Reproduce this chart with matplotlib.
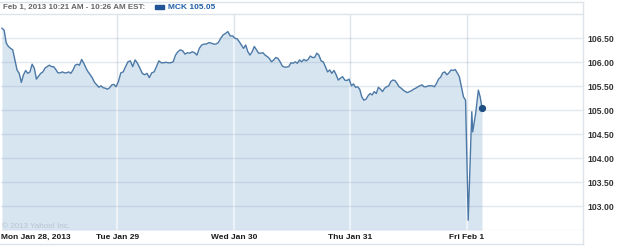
import numpy as np
import matplotlib
matplotlib.use("Agg")
import matplotlib.pyplot as plt
from matplotlib.lines import Line2D

# ---- data ----
days = ["Mon Jan 28, 2013", "Tue Jan 29", "Wed Jan 30", "Thu Jan 31", "Fri Feb 1"]

mon = [106.71, 106.67, 106.40, 106.33, 106.29, 106.26, 106.05, 105.84, 105.77, 105.58,
       105.74, 105.83, 105.77, 105.80, 105.96, 105.88, 105.65, 105.71, 105.77, 105.80,
       105.88, 105.91, 105.94, 105.91, 105.91, 105.85, 105.78, 105.78, 105.80, 105.78,
       105.78, 105.80, 105.77, 105.84, 105.94, 105.96, 105.94, 106.06, 105.98, 105.88,
       105.80, 105.74, 105.67, 105.58, 105.53, 105.48, 105.51, 105.47, 105.46, 105.44,
       105.47, 105.53, 105.54, 105.49]
tue = [105.60, 105.78, 105.80, 105.91, 106.01, 106.03, 105.91, 106.05, 105.98, 105.88,
       105.77, 105.74, 105.77, 105.68, 105.78, 105.80, 105.91, 106.03, 105.99, 105.99,
       106.00, 105.99, 105.99, 106.01, 106.15, 106.22, 106.26, 106.24, 106.17, 106.20,
       106.19, 106.22, 106.20, 106.15, 106.29, 106.36, 106.38, 106.38, 106.41, 106.40,
       106.38, 106.38, 106.41, 106.50, 106.57, 106.60, 106.64, 106.55, 106.55]
wed = [106.50, 106.49, 106.43, 106.36, 106.29, 106.36, 106.22, 106.15, 106.22, 106.33,
       106.26, 106.19, 106.19, 106.20, 106.15, 106.12, 106.08, 106.01, 106.05, 106.10,
       106.08, 106.01, 105.92, 105.90, 105.90, 105.91, 105.99, 105.98, 106.01, 105.98,
       106.05, 106.01, 106.06, 106.03, 106.06, 106.13, 106.10, 106.10, 106.19, 106.15,
       106.03, 106.01, 105.91, 105.80, 105.84, 105.77, 105.83, 105.74, 105.63, 105.67,
       105.70, 105.63, 105.62, 105.65]
thu = [105.51, 105.55, 105.48, 105.49, 105.44, 105.28, 105.21, 105.23, 105.30, 105.35,
       105.32, 105.39, 105.35, 105.48, 105.44, 105.39, 105.46, 105.49, 105.51, 105.60,
       105.63, 105.62, 105.56, 105.49, 105.46, 105.42, 105.39, 105.37, 105.39, 105.41,
       105.44, 105.46, 105.49, 105.51, 105.53, 105.49, 105.49, 105.51, 105.51, 105.51,
       105.49, 105.56, 105.65, 105.69, 105.78, 105.80, 105.74, 105.78, 105.84, 105.83,
       105.85, 105.78, 105.70, 105.49, 105.28, 105.21]
fri_minutes = [5, 17, 20, 30, 39, 45, 51]
fri = [102.71, 104.97, 104.55, 104.94, 105.42, 105.28, 105.05]

yticks = [103.00, 103.50, 104.00, 104.50, 105.00, 105.50, 106.00, 106.50]
title_txt = "Feb 1, 2013 10:21 AM - 10:26 AM EST:"
legend_txt = "MCK 105.05"
copyright_txt = "\u00a9 2013 Yahoo! Inc."

# ---- build x (in trading days; 390 minutes per session) ----
xs, ys = [], []
for d, vals in enumerate([mon, tue, wed, thu]):
    n = len(vals)
    xs.extend(list(d + np.linspace(0.01, 0.99, n)))
    ys.extend(vals)
xs.extend([4 + m / 390.0 for m in fri_minutes])
ys.extend(fri)
xs = np.array(xs)
ys = np.array(ys)

FONT = ["Liberation Sans Narrow", "Liberation Sans", "DejaVu Sans"]

fig = plt.figure(figsize=(6.25, 2.46), dpi=100)
W, H = 625.0, 246.0
ax = fig.add_axes([0.8 / W, (H - 230) / H, (583.2 - 0.8) / W, (230 - 14) / H])
ymin = 107.298 - 230 / 48.0
ymax = 107.298 - 14 / 48.0
ax.set_xlim(0, 5)
ax.set_ylim(ymin, ymax)

fill_col = "#d6e5f0"
line_col = "#4b78a6"

# vertical grid (gray in the empty area)
for d in range(1, 5):
    ax.axvline(d, color="#dde4eb", lw=1.0, zorder=0.5)

poly = ax.fill_between(xs, ys, ymin, color=fill_col, lw=0, zorder=1)
clip_path = poly.get_paths()[0]
for d in range(1, 5):
    wl = ax.axvline(d, color="#f4f7fa", lw=1.2, zorder=1.5)
    wl.set_clip_path(clip_path, ax.transData)

for yv in yticks:
    ax.axhline(yv, color="#7f98b0", alpha=0.22, lw=1.0, zorder=1.6)
ax.axhline(ymin, color="#7f98b0", alpha=0.22, lw=1.0, zorder=1.6)

ax.plot(xs, ys, color=line_col, lw=1.0, zorder=3)
ax.plot(xs[-1], ys[-1], "o", color="#1d4f85", ms=4.2, zorder=4)

ax.set_yticks(yticks)
ax.set_yticklabels(["%.2f" % v for v in yticks])
ax.yaxis.tick_right()
ax.tick_params(axis="y", length=0, pad=3, labelsize=6.2, labelcolor="#333333")
ax.set_xticks(range(5))
ax.set_xticklabels(days)
ax.tick_params(axis="x", length=0, pad=3, labelsize=6.0, labelcolor="#1a1a1a")
for lab in ax.get_xticklabels() + ax.get_yticklabels():
    lab.set_fontfamily(FONT)
    lab.set_fontweight("bold")
ax.get_xticklabels()[0].set_horizontalalignment("left")

for s in ["top", "left", "bottom", "right"]:
    ax.spines[s].set_visible(False)
ax.patch.set_alpha(0)

ax.text(0.012, 102.58, copyright_txt, fontsize=5.8,
        color="#b8c4cf", family=FONT, zorder=5, va="center")

# frame lines in figure pixels
def fline(x0, y0, x1, y1, c="#dde3e9", lw=1.0):
    fig.add_artist(Line2D([x0 / W, x1 / W], [1 - y0 / H, 1 - y1 / H], color=c, lw=lw))

fline(0, 1.5, 583, 1.5)
fline(0, 14, 583, 14)
fline(583, 1.5, 583, 244)
fline(0, 244, 583, 244)

fig.text(3 / W, 1 - 7.5 / H, title_txt, fontsize=5.8, fontweight="bold",
         color="#666666", family=FONT, va="center", ha="left")
fig.patches.append(matplotlib.patches.Rectangle((155 / W, 1 - 9 / H), 9 / W, 3.5 / H,
                   transform=fig.transFigure, color="#1f5596", figure=fig))
fig.text(168 / W, 1 - 7.5 / H, legend_txt, fontsize=6.0, fontweight="bold",
         color="#2060a8", family=FONT, va="center", ha="left")

fig.savefig("out.png", dpi=100)
